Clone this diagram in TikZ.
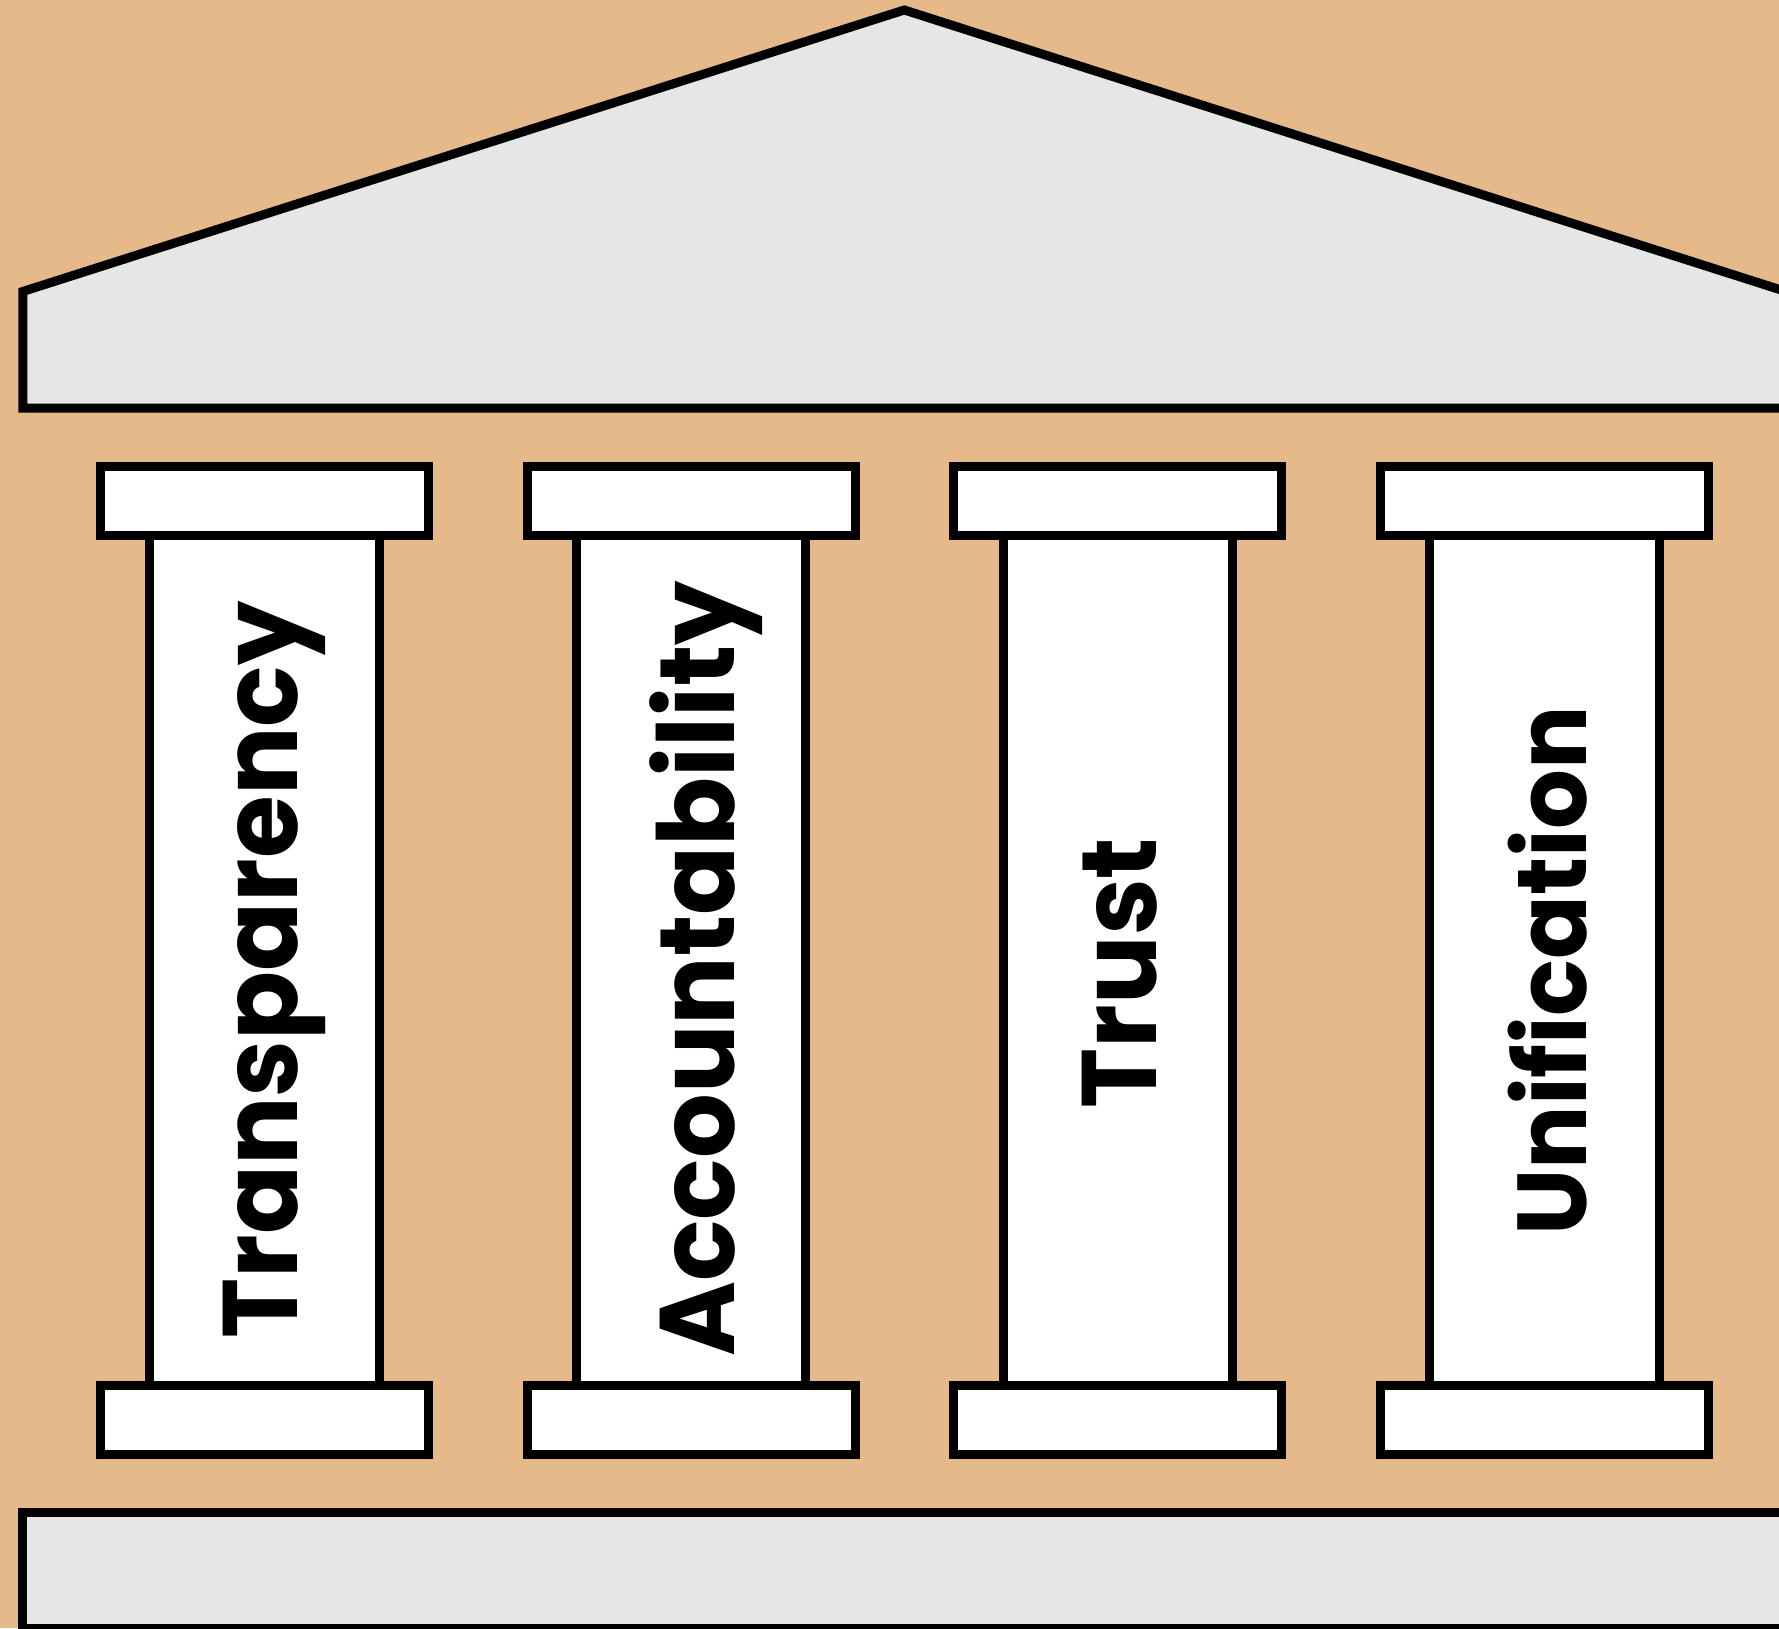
\documentclass[tikz,border=0pt]{standalone}
\usepackage{fontspec}
\setmainfont{Poppins}
\newfontfamily\pillarfont{Poppins}[FakeStretch=0.96]
\usepackage{tikz}
\usetikzlibrary{positioning}

\definecolor{wall}{RGB}{229,185,138}
\definecolor{stone}{RGB}{230,230,230}

\begin{document}
\begin{tikzpicture}[x=1pt,y=-1pt,line width=9pt,draw=black]
      \tikzstyle{capital} = [rectangle, draw=black, fill=white, minimum width=328pt, minimum height=69pt, inner sep=0pt]
      \tikzstyle{shaft} = [rectangle, draw=black, fill=white, minimum width=229.5pt, minimum height=850pt, inner sep=0pt]
      \tikzstyle{word} = [font=\pillarfont\bfseries\fontsize{106}{110}\selectfont, rotate=90, anchor=base, inner sep=0pt]
      % background
      \fill[wall] (0,0) rectangle (1779,1628);
      \useasboundingbox (0,0) rectangle (1779,1628);
      \clip (0,0) rectangle (1779,1628);
      % roof and floor
      \draw[fill=stone] (22.8,408) -- (22.8,291.5) -- (904.3,10) -- (1785.8,291.5) -- (1785.8,408) -- cycle;
      \draw[fill=stone] (22.8,1512.8) rectangle (1800,1628.8);
      % columns
      \node[shaft] (shaft-A) at (264.5,960.5) {};
      \node[shaft] (shaft-B) at (691.2,960.5) {};
      \node[shaft] (shaft-C) at (1117.8,960.5) {};
      \node[shaft] (shaft-D) at (1544.5,960.5) {};
      \node[capital] (top-A) at (264.5,501) {};
      \node[capital] (top-B) at (691.2,501) {};
      \node[capital] (top-C) at (1117.8,501) {};
      \node[capital] (top-D) at (1544.5,501) {};
      \node[capital] (foot-A) at (264.5,1420) {};
      \node[capital] (foot-B) at (691.2,1420) {};
      \node[capital] (foot-C) at (1117.8,1420) {};
      \node[capital] (foot-D) at (1544.5,1420) {};
      \node[word] (label-A) at (297.3,970) {Transparency};
      \node[word] (label-B) at (734.3,969) {Accountability};
      \node[word] (label-C) at (1156.2,973) {Trust};
      \node[word, font=\pillarfont\bfseries\fontsize{98}{102}\selectfont] (label-D) at (1586.5,971) {Unification};
\end{tikzpicture}
\end{document}
